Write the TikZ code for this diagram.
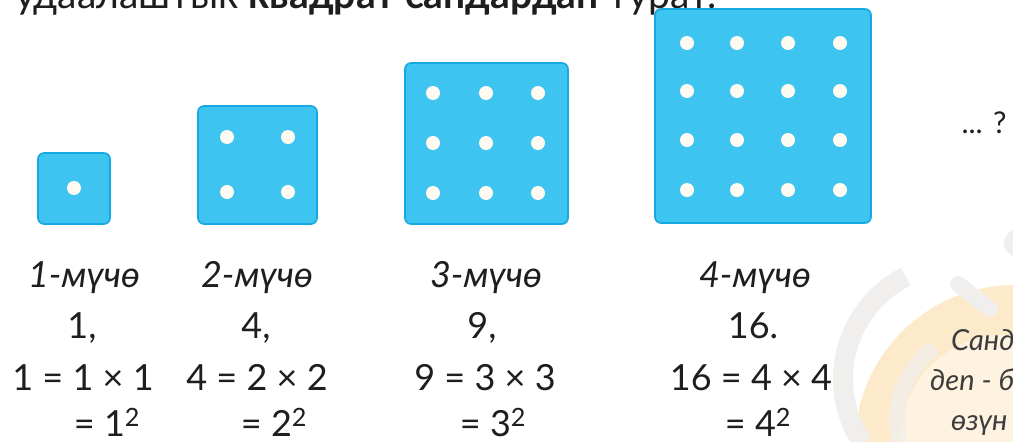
\documentclass[tikz,border=0pt]{standalone}
\usepackage{fontspec}
\setmainfont{Lato}
\usepackage{xcolor}
\usepackage{tikz}

\definecolor{sqfill}{RGB}{62,196,241}
\definecolor{sqedge}{RGB}{22,168,224}
\definecolor{pipcol}{RGB}{255,250,242}
\definecolor{txt}{RGB}{30,30,30}
\definecolor{notegray}{RGB}{60,60,60}
\definecolor{blob}{RGB}{252,234,202}
\definecolor{blobin}{RGB}{254,243,224}
\definecolor{wmark}{RGB}{240,239,238}

\begin{document}
\begin{tikzpicture}[x=1pt,y=-1pt,
    sq/.style={fill=sqfill,draw=sqedge,line width=1.6pt,rounded corners=6pt},
    lbl/.style={font=\fontsize{36}{42}\selectfont,text=txt,anchor=base,inner sep=0pt},
    term/.style={lbl,font=\fontsize{36}{42}\selectfont\itshape},
    note/.style={font=\fontsize{29}{34}\selectfont\itshape,text=notegray,anchor=base west,inner sep=0pt}]
    \clip (0,0) rectangle (1013,442);
    \fill[white] (0,0) rectangle (1013,442);
    % watermark in the corner
    \fill[blob] (1015,445) circle (160);
    \fill[blobin] (1005,440) circle (105);
    \draw[wmark,line width=20pt] (958,379) ++(146:115) arc[start angle=146,end angle=243,radius=115];
    \draw[wmark,line width=16pt,opacity=.7] (985,420) ++(150:88) arc[start angle=150,end angle=235,radius=88];
    \draw[wmark,line width=16pt,line cap=round] (958,284) -- (990,309);
    \fill[wmark] (1018,243) circle (14);
    % top line of text
    \node[anchor=base west,font=\fontsize{39}{44}\selectfont,text=txt,inner sep=0pt] (head) at (15,8)
      {удаалаштык \textbf{квадрат сандардан} турат.};
    % squares
    \draw[sq] (38,153) rectangle (110,224);
    \draw[sq] (198,106) rectangle (317,224);
    \draw[sq] (405,63) rectangle (568,224);
    \draw[sq] (655,9) rectangle (871,223);
    \fill[pipcol] (74,188) circle (7);
    \foreach \x in {227,288}{
      \foreach \y in {137,192}{
        \fill[pipcol] (\x,\y) circle (7);
      }
    }
    \foreach \x in {433,486,538}{
      \foreach \y in {93,143,193}{
        \fill[pipcol] (\x,\y) circle (7);
      }
    }
    \foreach \x in {687,737,788,840}{
      \foreach \y in {43,91,140,190}{
        \fill[pipcol] (\x,\y) circle (7);
      }
    }
    \node[lbl,font=\fontsize{30}{36}\selectfont] (more) at (984,133) {... ?};
    % labels under the squares
    \node[term] (t1) at (84,287) {1-мүчө};
    \node[term] (t2) at (257,287) {2-мүчө};
    \node[term] (t3) at (486,287) {3-мүчө};
    \node[term] (t4) at (755,287) {4-мүчө};
    \node[lbl] (v1) at (82,338) {1,};
    \node[lbl] (v2) at (256,338) {4,};
    \node[lbl] (v3) at (482,338) {9,};
    \node[lbl] (v4) at (753,338) {16.};
    \node[lbl] (e1) at (83,390) {1 = 1 × 1};
    \node[lbl] (e2) at (257,390) {4 = 2 × 2};
    \node[lbl] (e3) at (485,390) {9 = 3 × 3};
    \node[lbl] (e4) at (751,390) {16 = 4 × 4};
    \node[lbl] (p1) at (107,436) {= 1\textsuperscript{2}};
    \node[lbl] (p2) at (274,436) {= 2\textsuperscript{2}};
    \node[lbl] (p3) at (493,436) {= 3\textsuperscript{2}};
    \node[lbl] (p4) at (758,436) {= 4\textsuperscript{2}};
    % note on the right
    \node[note] (n1) at (951,350) {Санд};
    \node[note] (n2) at (930,390) {деп - б};
    \node[note] (n3) at (951,430) {өзүн};
\end{tikzpicture}
\end{document}
